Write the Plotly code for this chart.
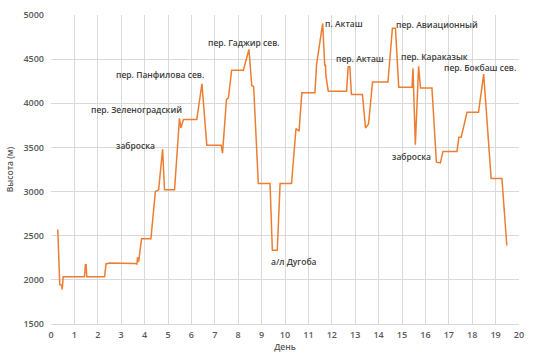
import plotly.graph_objects as go

days = [0.29, 0.375, 0.45, 0.48, 0.52, 1.43, 1.47, 1.5, 1.53, 2.29, 2.35, 2.5, 3.6, 3.67,
        3.7, 3.72, 3.75, 3.87, 4.27, 4.46, 4.6, 4.77, 4.85, 5.28, 5.49, 5.55, 5.6, 5.66,
        6.23, 6.45, 6.66, 7.27, 7.33, 7.5, 7.58, 7.72, 8.22, 8.46, 8.58, 8.66, 8.86, 9.36,
        9.46, 9.67, 9.79, 10.28, 10.47, 10.6, 10.72, 11.28, 11.35, 11.61, 11.7, 11.73,
        11.75, 11.85, 12.63, 12.7, 12.77, 12.84, 13.31, 13.44, 13.57, 13.74, 14.4, 14.59,
        14.72, 14.86, 15.43, 15.47, 15.57, 15.71, 15.79, 16.28, 16.47, 16.64, 16.75, 17.35,
        17.43, 17.53, 17.78, 18.27, 18.49, 18.81, 19.27, 19.48]
altitude = [2570, 1945, 1940, 1890, 2035, 2035, 2170, 2170, 2035, 2035, 2180, 2190, 2185, 2180,
            2255, 2205, 2215, 2465, 2465, 3000, 3020, 3480, 3020, 3020, 3830, 3720, 3765, 3815,
            3815, 4220, 3525, 3525, 3435, 4045, 4060, 4375, 4375, 4610, 4200, 4190, 3092, 3092,
            2335, 2335, 3092, 3092, 3714, 3685, 4120, 4120, 4440, 4904, 4420, 4440,
            4310, 4135, 4135, 4415, 4415, 4100, 4100, 3720, 3765, 4240, 4240, 4850,
            4850, 4183, 4183, 4395, 3530, 4420, 4172, 4172, 3333, 3325, 3455, 3455,
            3615, 3615, 3899, 3899, 4331, 3148, 3148, 2390]

label_text = ["заброска", "пер. Зеленоградский", "пер. Панфилова сев.", "пер. Гаджир сев.",
              "а/л Дугоба", "п. Акташ", "пер. Акташ", "пер. Авиационный", "пер. Караказык",
              "заброска", "пер. Бокбаш сев."]
label_day = [3.6, 3.67, 4.65, 8.24, 10.4, 12.5, 13.22, 16.48, 16.4, 15.39, 18.35]
label_alt = [3525, 3928, 4327, 4690, 2213, 4904, 4509, 4897, 4527, 3400, 4401]

x_ticks = list(range(0, 21))
y_ticks = [1500, 2000, 2500, 3000, 3500, 4000, 4500, 5000]

fig = go.Figure()
fig.add_trace(go.Scatter(x=days, y=altitude, mode="lines",
                         line=dict(color="#ED7D31", width=1.5), hoverinfo="skip"))

for t, d, a in zip(label_text, label_day, label_alt):
    fig.add_annotation(x=d, y=a, text=t, showarrow=False, xanchor="center", yanchor="middle",
                       font=dict(family="Open Sans", size=8.5, color="#404040", weight=600))

tick_font = dict(family="Open Sans", size=9, color="#595959", weight=600)

fig.update_layout(
    width=533, height=359,
    margin=dict(l=50.5, r=14, t=8, b=35),
    paper_bgcolor="white", plot_bgcolor="white",
    showlegend=False,
    font=dict(family="Open Sans", color="#595959"),
    xaxis=dict(range=[0, 20], tickvals=x_ticks, ticktext=[str(v) for v in x_ticks],
               showgrid=True, gridcolor="#d9d9d9", gridwidth=1, zeroline=False,
               showline=True, linecolor="#d9d9d9", ticks="",
               tickfont=tick_font, ticklabelstandoff=2,
               title=dict(text="День", font=dict(size=8.5, color="#595959", weight=600), standoff=4)),
    yaxis=dict(range=[1500, 5000], tickvals=y_ticks, ticktext=[str(v) for v in y_ticks],
               showgrid=True, gridcolor="#d9d9d9", gridwidth=1, zeroline=False,
               showline=False, ticks="",
               tickfont=tick_font, ticklabelstandoff=6,
               title=dict(text="Высота (м)", font=dict(size=8.5, color="#595959", weight=600), standoff=8)),
)

fig.write_html("out.html", config={"displayModeBar": False},
               post_script="document.body.style.margin='0px';document.body.style.overflow='hidden';")
